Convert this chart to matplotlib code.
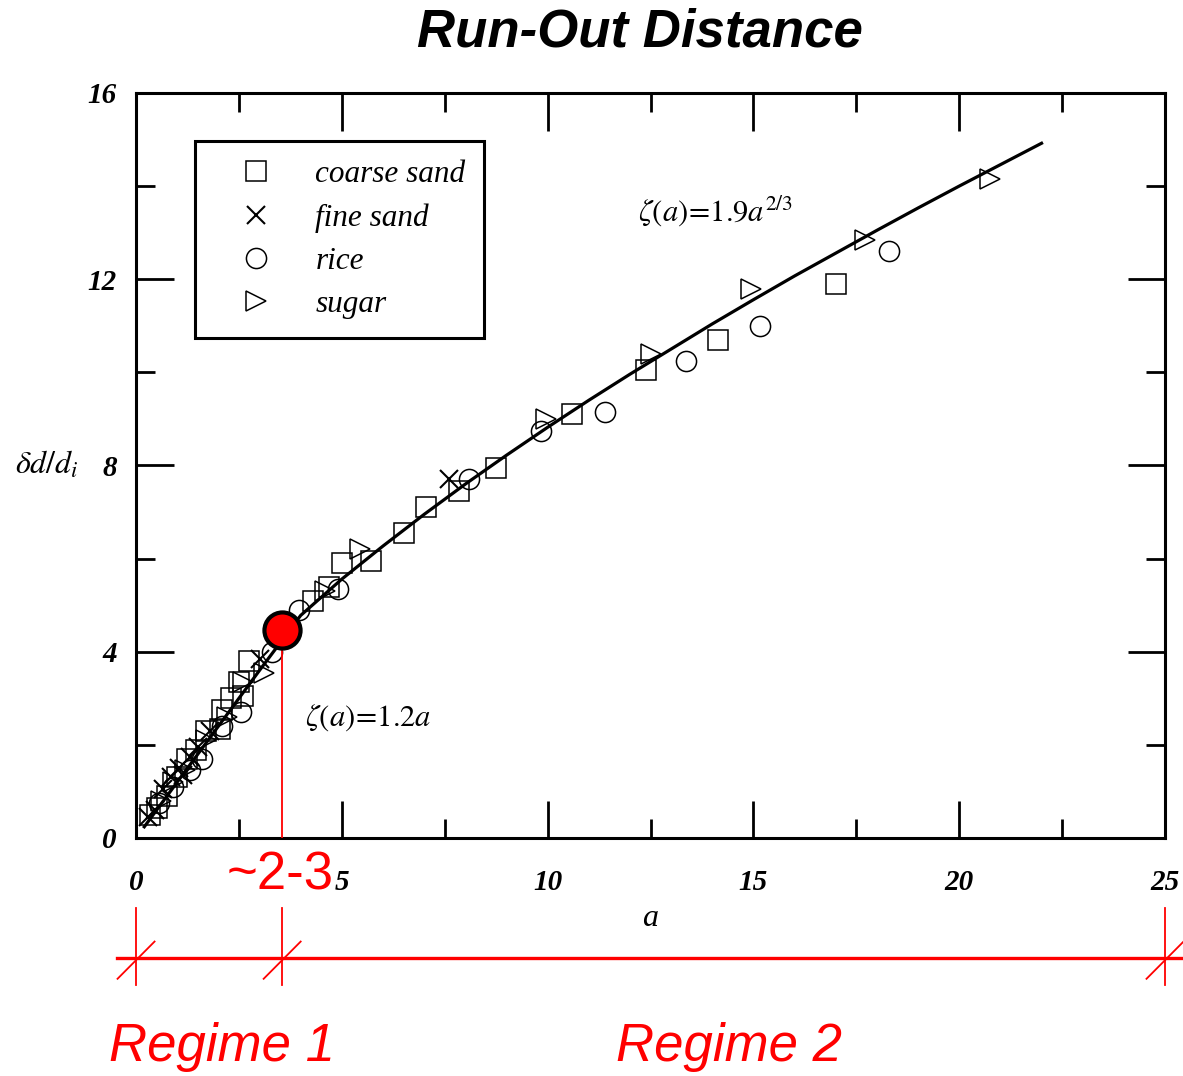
import matplotlib.pyplot as plt
from matplotlib.ticker import MultipleLocator

plt.rcParams["mathtext.fontset"] = "stix"

# fitted curve
curve_a = [0.2, 1, 2, 3, 4, 5, 6, 7, 8, 9, 10, 11, 12, 13, 14, 15, 16, 17, 18, 19, 20, 21, 22]
curve_z = [0.24, 1.2, 2.4, 3.6, 4.78, 5.56, 6.27, 6.95, 7.6, 8.22, 8.82, 9.4, 9.96,
           10.5, 11.04, 11.56, 12.07, 12.56, 13.05, 13.53, 14.0, 14.46, 14.92]

coarse_a = [0.35, 0.5, 0.75, 1.0, 1.25, 1.45, 1.7, 2.05, 2.1, 2.3, 2.5, 2.6, 2.75, 4.3,
            4.7, 5.0, 5.7, 6.5, 7.05, 7.85, 8.75, 10.6, 12.4, 14.15, 17.0]
coarse_z = [0.5, 0.65, 0.9, 1.3, 1.7, 1.9, 2.3, 2.35, 2.75, 3.0, 3.35, 3.05, 3.8, 5.1,
            5.4, 5.9, 5.95, 6.55, 7.1, 7.45, 7.95, 9.1, 10.05, 10.7, 11.9]

fine_a = [0.3, 0.45, 0.65, 0.85, 1.05, 1.15, 1.3, 1.5, 1.8, 3.0, 7.6]
fine_z = [0.45, 0.6, 1.05, 1.3, 1.5, 1.35, 1.75, 1.95, 2.3, 3.85, 7.7]

rice_a = [0.55, 0.9, 1.3, 1.6, 2.1, 2.55, 3.3, 3.95, 4.9, 8.1, 9.85, 11.4, 13.35, 15.15, 18.3]
rice_z = [0.75, 1.1, 1.45, 1.7, 2.4, 2.7, 4.0, 4.9, 5.35, 7.7, 8.75, 9.15, 10.25, 11.0, 12.6]

sugar_a = [0.6, 0.9, 1.2, 1.7, 2.2, 2.6, 3.1, 4.6, 5.45, 9.95, 12.5, 14.95, 17.7, 20.75]
sugar_z = [0.8, 1.2, 1.45, 2.1, 2.6, 3.35, 3.55, 5.3, 6.2, 9.0, 10.4, 11.8, 12.85, 14.15]

transition_a = 3.55
transition_z = 4.47
regime_edges = [0, transition_a, 25]

RED = "#ff0000"
serif = "Liberation Serif"
sans = "Liberation Sans"

fig = plt.figure(figsize=(11.83, 10.76), dpi=100)
ax = fig.add_axes([0.115, 0.2212, 0.8698, 0.6924])

mk = dict(linestyle="none", markerfacecolor="none", markeredgecolor="black",
          markeredgewidth=1.1, zorder=3)
ax.plot(coarse_a, coarse_z, marker="s", markersize=14.5, label="coarse sand", **mk)
ax.plot(fine_a, fine_z, marker="x", markersize=13, label="fine sand",
        linestyle="none", color="black", markeredgewidth=1.5, zorder=3)
ax.plot(rice_a, rice_z, marker="o", markersize=14.5, label="rice", **mk)
ax.plot(sugar_a, sugar_z, marker=">", markersize=14, label="sugar", **mk)

ax.plot(curve_a, curve_z, color="black", linewidth=2.3, zorder=4)

# transition marker and its drop line
ax.plot([transition_a, transition_a], [0, transition_z], color=RED, linewidth=1.3, zorder=5)
ax.plot([transition_a], [transition_z], marker="o", markersize=26, markerfacecolor=RED,
        markeredgecolor="black", markeredgewidth=3, linestyle="none", zorder=6)

ax.set_xlim(0, 25)
ax.set_ylim(0, 16)
ax.xaxis.set_major_locator(MultipleLocator(5))
ax.xaxis.set_minor_locator(MultipleLocator(2.5))
ax.yaxis.set_major_locator(MultipleLocator(4))
ax.yaxis.set_minor_locator(MultipleLocator(2))
ax.tick_params(which="both", direction="in", top=True, right=True, width=2, color="black")
ax.tick_params(which="major", length=27)
ax.tick_params(which="minor", length=14)
ax.tick_params(axis="x", which="major", pad=22)
ax.tick_params(axis="y", which="major", pad=14)
for lab in ax.get_xticklabels() + ax.get_yticklabels():
    lab.set_fontfamily(serif)
    lab.set_fontstyle("italic")
    lab.set_fontweight("bold")
    lab.set_fontsize(21)
for sp in ax.spines.values():
    sp.set_linewidth(2.2)

ax.set_xlabel("a", fontfamily=serif, fontstyle="italic", fontsize=23, labelpad=6)
ax.text(-0.118, 8, r"$\delta d/d_i$", transform=ax.get_yaxis_transform(),
        fontsize=23, ha="left", va="center")

ax.text(12.2, 13.45, r"$\zeta(a)\!=\!1.9a^{2/3}$", fontsize=22, ha="left", va="center")
ax.text(4.1, 2.58, r"$\zeta(a)\!=\!1.2a$", fontsize=22, ha="left", va="center")

leg = ax.legend(loc="upper left", bbox_to_anchor=(0.057, 0.935), prop={"family": serif,
                "style": "italic", "size": 22.5}, frameon=True, fancybox=False,
                framealpha=1, edgecolor="black", borderpad=0.6, labelspacing=0.45,
                handlelength=2.7, handletextpad=0.56, borderaxespad=0)
leg.get_frame().set_linewidth(2.2)

# regime bar below the axis
xt = ax.get_xaxis_transform()
ax.plot([-0.46, 25.45], [-0.161, -0.161], color=RED, linewidth=2.4, transform=xt, clip_on=False)
for e in regime_edges:
    ax.plot([e, e], [-0.094, -0.197], color=RED, linewidth=1.3, transform=xt, clip_on=False)
    ax.plot([e - 0.45, e + 0.45], [-0.189, -0.139], color=RED, linewidth=1.3,
            transform=xt, clip_on=False)

ax.text(transition_a - 0.05, -0.05, "~2-3", transform=xt, color=RED, fontfamily=sans,
        fontsize=38, ha="center", va="center")
ax.text(2.09, -0.281, "Regime 1", transform=xt, color=RED, fontfamily=sans,
        fontstyle="italic", fontsize=38, ha="center", va="center")
ax.text(14.4, -0.281, "Regime 2", transform=xt, color=RED, fontfamily=sans,
        fontstyle="italic", fontsize=38, ha="center", va="center")

fig.text(0.541, 0.970, "Run-Out Distance", fontfamily=sans, fontstyle="italic",
         fontweight="bold", fontsize=38, ha="center", va="center")

fig.savefig("out.png", dpi=100)
